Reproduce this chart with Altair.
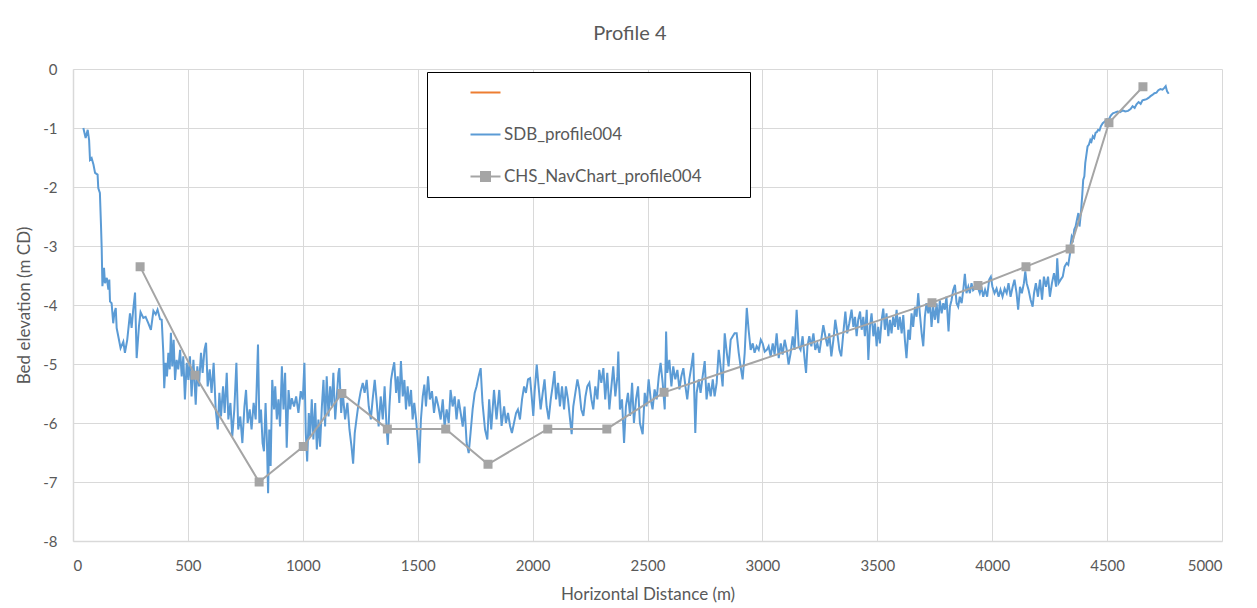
import altair as alt
import pandas as pd

SERIES = [" ", "SDB_profile004", "CHS_NavChart_profile004"]
COLORS = ["#ED7D31", "#5B9BD5", "#A5A5A5"]
SHAPES = ["M-2,0H2", "M-2,0H2", "M-2,0H2M-0.6,-0.6H0.6V0.6H-0.6Z"]

X_TICKS = [0, 500, 1000, 1500, 2000, 2500, 3000, 3500, 4000, 4500, 5000]
Y_TICKS = [-8, -7, -6, -5, -4, -3, -2, -1, 0]

CHS_X = [292, 531, 810, 1002, 1170, 1368, 1622, 1806, 2066, 2323, 2572,
         3738, 3938, 4147, 4339, 4508, 4656]
CHS_Y = [-3.35, -5.19, -7.0, -6.4, -5.5, -6.1, -6.1, -6.7, -6.1, -6.1, -5.48,
         -3.96, -3.67, -3.35, -3.05, -0.91, -0.3]

SDB = [
    (45, -1.0), (55, -1.17), (64, -1.03), (70, -1.2), (74, -1.54), (81, -1.51), (89, -1.62),
    (96, -1.76), (107, -1.79), (110, -2.02), (117, -2.1), (122, -2.67), (125, -3.06),
    (128, -3.68), (135, -3.37), (139, -3.63), (147, -3.54), (154, -3.74), (158, -3.57),
    (161, -3.94), (168, -3.97), (175, -4.31), (180, -4.14), (186, -4.05), (190, -4.39),
    (200, -4.59), (207, -4.73), (219, -4.62), (226, -4.81), (236, -4.59), (248, -4.14),
    (255, -4.39), (262, -4.08), (270, -3.79), (277, -4.9), (287, -4.36), (294, -4.12),
    (306, -4.22), (316, -4.2), (328, -4.31), (339, -4.42), (350, -4.1), (360, -4.16),
    (368, -4.08), (379, -4.24), (386, -4.25), (393, -4.81), (397, -5.41), (403, -4.98),
    (409, -5.21), (415, -4.81), (421, -5.09), (426, -4.47), (432, -5.04), (438, -4.59),
    (444, -5.27), (451, -4.93), (458, -5.09), (466, -4.76), (473, -5.21), (480, -4.87),
    (487, -5.6), (495, -4.98), (502, -5.27), (509, -4.87), (516, -5.55), (524, -4.93),
    (534, -5.69), (541, -5.04), (548, -5.38), (557, -4.81), (564, -5.15), (572, -4.76),
    (579, -4.64), (586, -5.38), (595, -5.09), (603, -5.49), (612, -4.98), (621, -5.77),
    (630, -6.11), (637, -5.49), (644, -5.89), (653, -5.38), (660, -5.83), (669, -5.15),
    (676, -5.94), (685, -5.66), (693, -6.23), (702, -5.77), (711, -4.98), (719, -6.11),
    (728, -5.89), (737, -6.34), (746, -5.72), (753, -5.44), (760, -6.0), (769, -5.77),
    (777, -6.11), (786, -5.66), (795, -5.94), (805, -4.67), (811, -6.0), (818, -5.77),
    (825, -6.34), (831, -6.48), (838, -5.66), (844, -6.34), (849, -7.19), (854, -6.11),
    (860, -6.73), (867, -5.27), (875, -5.77),
    (880, -5.38), (887, -5.94), (894, -5.6), (901, -6.06), (909, -5.04), (916, -5.77),
    (923, -5.15), (930, -6.42), (938, -5.44), (945, -5.77), (952, -5.58), (962, -5.72),
    (971, -5.55), (981, -5.83), (991, -5.46), (1000, -5.6), (1007, -4.98), (1013, -6.17),
    (1019, -6.65), (1026, -5.83), (1032, -6.23), (1039, -5.6), (1046, -6.28), (1054, -5.66),
    (1061, -6.45), (1068, -5.94), (1075, -6.4), (1083, -5.72), (1090, -5.27), (1097, -6.06),
    (1104, -5.21), (1112, -5.89), (1119, -5.38), (1126, -5.72), (1133, -5.15), (1141, -5.94),
    (1148, -5.55), (1155, -5.15), (1159, -5.07), (1167, -5.83), (1174, -5.49), (1184, -5.94),
    (1194, -5.66), (1203, -6.11), (1212, -6.4), (1219, -6.69), (1226, -6.17), (1235, -5.89),
    (1243, -5.66), (1252, -5.46), (1261, -5.32), (1269, -5.49), (1278, -5.27), (1287, -5.72),
    (1296, -5.94), (1304, -5.6), (1313, -5.27), (1322, -5.66), (1330, -6.06), (1339, -5.55),
    (1348, -5.94), (1356, -5.38), (1365, -6.11), (1370, -6.37), (1377, -5.72), (1384, -5.27),
    (1391, -5.1), (1398, -4.97), (1406, -5.49), (1413, -5.21), (1420, -5.66), (1427, -4.95),
    (1435, -5.55), (1442, -5.27), (1449, -5.77), (1456, -5.38), (1464, -5.72), (1471, -5.44),
    (1478, -5.94), (1485, -5.66), (1493, -5.94), (1500, -6.28), (1507, -6.68), (1514, -5.94),
    (1522, -5.55), (1529, -5.35), (1536, -5.72), (1545, -5.21), (1553, -5.6), (1562, -5.46),
    (1571, -5.83), (1580, -5.55), (1590, -5.72), (1600, -5.94), (1609, -5.6), (1617, -6.06),
    (1626, -5.77), (1635, -6.0), (1643, -5.44), (1652, -5.72), (1661, -5.55), (1669, -5.94),
    (1678, -5.6), (1687, -5.83), (1696, -6.06), (1704, -5.72), (1713, -6.34), (1722, -6.51),
    (1730, -6.17), (1739, -5.77), (1748, -5.49), (1756, -5.38), (1765, -5.21), (1774, -5.07),
    (1782, -5.66), (1793, -6.11), (1803, -6.28), (1811, -5.6), (1820, -6.11), (1832, -5.44),
    (1843, -5.94), (1855, -5.44),
    (1865, -6.05), (1876, -5.72), (1884, -6.0), (1893, -5.83), (1902, -6.05), (1910, -6.17),
    (1919, -6.0), (1928, -5.83), (1936, -5.77), (1945, -5.94), (1954, -5.6), (1963, -5.38),
    (1971, -5.49), (1980, -5.26), (1989, -5.24), (1996, -5.55), (2003, -5.88), (2009, -5.46),
    (2018, -5.01), (2026, -5.38), (2035, -5.77), (2044, -5.49), (2052, -5.26), (2061, -5.72),
    (2070, -5.94), (2079, -5.6), (2087, -5.38), (2095, -5.12), (2102, -5.6), (2111, -5.32),
    (2119, -5.72), (2128, -5.38), (2137, -5.77), (2145, -5.38), (2154, -5.6), (2163, -5.94),
    (2170, -6.19), (2177, -5.72), (2186, -5.49), (2195, -5.26), (2203, -5.43), (2212, -5.77),
    (2221, -5.88), (2230, -5.55), (2238, -5.38), (2247, -5.32), (2256, -5.6), (2264, -5.77),
    (2273, -5.38), (2282, -5.6), (2290, -5.1), (2299, -5.32), (2308, -5.07), (2316, -5.6),
    (2325, -5.15), (2334, -5.77), (2343, -5.38), (2351, -5.04), (2360, -5.55), (2369, -5.21),
    (2373, -4.79), (2380, -5.77), (2389, -5.6), (2398, -6.34), (2406, -5.72), (2415, -5.49),
    (2424, -5.88), (2433, -5.32), (2441, -6.0), (2450, -5.6), (2459, -5.38), (2467, -6.0),
    (2479, -6.19), (2488, -5.49), (2496, -5.72), (2505, -5.26), (2514, -5.6), (2522, -5.77),
    (2531, -5.43), (2540, -5.6), (2549, -5.21), (2557, -4.98), (2566, -5.32), (2575, -5.77),
    (2581, -4.45), (2586, -5.15), (2595, -4.93), (2604, -5.38), (2612, -5.04), (2621, -5.26),
    (2630, -5.1), (2639, -5.43), (2647, -5.21), (2656, -5.07), (2665, -5.38), (2673, -5.6),
    (2682, -5.26), (2691, -5.04), (2699, -4.81), (2708, -6.17), (2714, -5.49), (2723, -5.26),
    (2731, -5.49), (2740, -5.21), (2749, -4.95), (2757, -5.6), (2766, -5.32), (2775, -5.55),
    (2784, -5.26), (2792, -5.55), (2801, -5.32), (2810, -4.76), (2818, -5.04), (2827, -5.38),
    (2836, -4.48), (2845, -4.81), (2853, -5.04), (2862, -4.59), (2871, -4.53), (2879, -4.48),
    (2888, -4.48), (2897, -4.81), (2905, -5.04), (2914, -5.26), (2923, -4.81), (2932, -4.05),
    (2940, -4.42), (2949, -4.76), (2958, -4.65), (2966, -4.81), (2975, -4.7), (2984, -4.76),
    (2993, -4.59), (3001, -4.65), (3010, -4.79), (3019, -4.76), (3027, -4.7), (3036, -4.87),
    (3045, -4.65), (3053, -4.84), (3062, -4.48), (3071, -4.9), (3080, -4.65), (3088, -4.84),
    (3097, -4.59), (3106, -4.76), (3114, -5.01), (3123, -4.81), (3132, -4.53), (3140, -4.76),
    (3149, -4.08), (3158, -4.7), (3166, -4.76), (3175, -4.53), (3184, -4.93), (3190, -5.15),
    (3196, -4.7), (3204, -4.53), (3213, -4.7), (3222, -4.48), (3230, -4.76), (3239, -4.65),
    (3248, -4.81), (3256, -4.59), (3265, -4.34), (3274, -4.53), (3283, -4.7), (3291, -4.48),
    (3300, -4.87), (3309, -4.59), (3317, -4.25), (3326, -4.48), (3335, -4.76), (3343, -4.87),
    (3352, -4.48), (3361, -4.11), (3369, -4.48), (3378, -4.31),
    (3388, -4.08), (3396, -4.37), (3403, -4.2), (3410, -4.53), (3417, -4.25), (3425, -4.11),
    (3432, -4.42), (3439, -4.2), (3446, -4.53), (3454, -4.08), (3461, -4.93), (3468, -4.37),
    (3475, -4.14), (3483, -4.53), (3490, -4.31), (3497, -4.7), (3504, -4.37), (3511, -4.65),
    (3519, -4.25), (3526, -4.06), (3533, -4.42), (3540, -4.14), (3548, -4.53), (3555, -4.25),
    (3562, -4.48), (3569, -4.2), (3577, -4.37), (3584, -4.08), (3591, -4.42), (3598, -4.2),
    (3606, -4.48), (3613, -4.17), (3620, -4.59), (3627, -4.9), (3635, -4.42), (3642, -4.59),
    (3649, -4.14), (3656, -4.37), (3664, -4.03), (3671, -4.2), (3678, -3.8), (3685, -4.14),
    (3693, -4.48), (3700, -4.7), (3707, -4.2), (3714, -3.97), (3722, -4.14), (3729, -3.92),
    (3736, -4.37), (3743, -4.03), (3751, -4.25), (3758, -3.97), (3765, -4.31), (3772, -3.92),
    (3780, -4.14), (3787, -3.97), (3794, -4.08), (3801, -3.86), (3810, -4.45), (3816, -4.03),
    (3823, -3.92), (3830, -3.75), (3838, -3.66), (3845, -3.97), (3852, -4.03), (3859, -3.86),
    (3867, -3.97), (3874, -3.75), (3881, -3.47), (3888, -3.8), (3896, -3.69), (3903, -3.8),
    (3910, -3.63), (3917, -3.75), (3932, -3.69),
    (3939, -3.72), (3946, -3.8), (3953, -3.69), (3961, -3.86), (3969, -3.74), (3978, -3.86),
    (3987, -3.57), (3994, -3.52), (4001, -3.69), (4010, -3.8), (4019, -3.72), (4028, -3.86),
    (4036, -3.74), (4045, -3.86), (4054, -3.72), (4063, -3.8), (4071, -3.63), (4080, -3.86),
    (4089, -3.69), (4097, -3.57), (4106, -3.8), (4113, -4.08), (4121, -3.69), (4129, -3.8),
    (4138, -3.63), (4144, -3.43), (4150, -3.63), (4158, -3.74), (4167, -3.91), (4176, -4.03),
    (4182, -3.8), (4190, -3.63), (4199, -3.86), (4208, -3.57), (4217, -3.91), (4225, -3.52),
    (4234, -3.69), (4243, -3.52), (4251, -3.86), (4260, -3.63), (4269, -3.46), (4278, -3.69),
    (4283, -3.21), (4289, -3.63), (4298, -3.57), (4307, -3.52), (4315, -3.35), (4324, -3.29),
    (4331, -3.32), (4339, -3.12),
    (4342, -2.95), (4346, -2.84), (4352, -2.89), (4357, -2.72), (4363, -2.67), (4369, -2.55),
    (4375, -2.44), (4380, -2.67), (4386, -2.44), (4392, -2.13), (4396, -1.88), (4401, -1.82),
    (4405, -1.59), (4409, -1.48), (4415, -1.31), (4421, -1.28), (4427, -1.2), (4432, -1.23),
    (4438, -1.14), (4444, -1.17), (4450, -1.08), (4455, -1.07), (4461, -1.03), (4467, -1.04),
    (4473, -0.97), (4481, -0.92), (4490, -0.89), (4499, -0.85), (4507, -0.86), (4516, -0.79),
    (4525, -0.75), (4533, -0.74), (4545, -0.72), (4556, -0.73), (4568, -0.7), (4579, -0.72),
    (4591, -0.71), (4602, -0.68), (4611, -0.63), (4620, -0.66), (4628, -0.6), (4637, -0.56),
    (4646, -0.59), (4654, -0.53), (4663, -0.52), (4672, -0.51), (4680, -0.49), (4689, -0.46),
    (4697, -0.44), (4706, -0.41), (4715, -0.4), (4723, -0.36), (4732, -0.34), (4741, -0.35),
    (4749, -0.32), (4755, -0.29), (4761, -0.38), (4768, -0.42),
]

sdb_df = pd.DataFrame({
    "x": [p[0] for p in SDB],
    "y": [p[1] for p in SDB],
    "series": SERIES[1],
})
chs_df = pd.DataFrame({"x": CHS_X, "y": CHS_Y, "series": SERIES[2]})
lines_df = pd.concat([sdb_df, chs_df], ignore_index=True)

FONT = "Lato"
TXT = "#595959"
GRID = "#D9D9D9"

PAD_TEXT = "\u2800" * 3
legend = alt.Legend(
    title=None, orient="none", legendX=354, legendY=3,
    strokeColor="#000000", fillColor="#FFFFFF", padding=12,
    symbolOffset=38, symbolSize=225, symbolStrokeWidth=2,
    symbolFillColor="#A5A5A5", symbolOpacity=1,
    labelFont=FONT, labelFontSize=17, labelColor=TXT, labelOffset=10,
    labelLimit=600, rowPadding=24,
    labelExpr="indexof(datum.label, 'CHS') == 0 ? datum.label + '" + PAD_TEXT + "' : datum.label",
)

color_scale = alt.Scale(domain=SERIES, range=COLORS)

x_enc = alt.X(
    "x:Q",
    scale=alt.Scale(domain=[0, 5000], nice=False),
    axis=alt.Axis(title="Horizontal Distance (m)", values=X_TICKS,
                  labelExpr="'' + datum.value", labelPadding=17, titlePadding=13),
)
y_enc = alt.Y(
    "y:Q",
    scale=alt.Scale(domain=[-8, 0], nice=False),
    axis=alt.Axis(title="Bed elevation (m CD)", values=Y_TICKS,
                  labelExpr="'' + datum.value", labelPadding=16, titlePadding=9),
)

lines = alt.Chart(lines_df).mark_line(strokeWidth=2).encode(
    x=x_enc, y=y_enc,
    color=alt.Color("series:N", scale=color_scale, legend=legend),
)

points = alt.Chart(chs_df).mark_point(filled=True, opacity=1, size=225).encode(
    x=x_enc, y=y_enc,
    color=alt.Color("series:N", scale=color_scale, legend=legend),
    shape=alt.Shape("series:N", scale=alt.Scale(domain=SERIES, range=SHAPES), legend=legend),
)

chart = alt.layer(lines, points).properties(
    width=1149, height=472,
    padding={"left": 73, "top": 69, "right": 35, "bottom": 67},
    autosize=alt.AutoSizeParams(type="none"),
    background="#FFFFFF",
    title=alt.TitleParams("Profile 4", font=FONT, fontSize=20, fontWeight="normal",
                          color=TXT, anchor="middle", frame="bounds", offset=18, dx=11),
).configure_view(strokeWidth=0).configure_axis(
    labelFont=FONT, labelFontSize=15, labelColor=TXT,
    titleFont=FONT, titleFontSize=17, titleColor=TXT, titleFontWeight="normal",
    gridColor=GRID, gridWidth=1, domainColor=GRID, domainWidth=1.5,
    ticks=False, grid=True,
)

chart.save("out.html", embed_options={"renderer": "svg", "actions": False})
